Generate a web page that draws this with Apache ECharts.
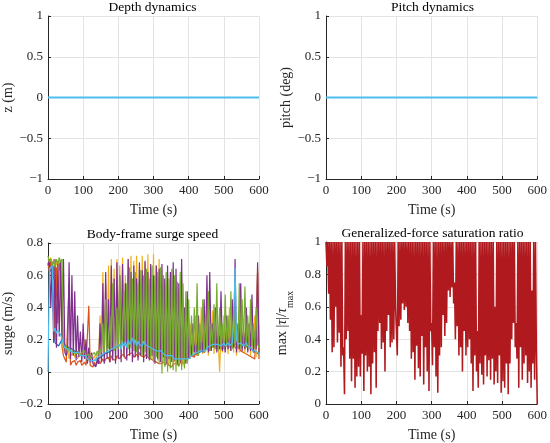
<!DOCTYPE html>
<html>
<head>
<meta charset="utf-8">
<title>AUV dynamics</title>
<script src="https://cdn.jsdelivr.net/npm/echarts@6/dist/echarts.min.js"></script>
<style>
    html, body { margin: 0; padding: 0; background: #fff; }
    #chart { width: 550px; height: 443px; }
</style>
</head>
<body>
<div id="chart"></div>
<script>
// 采样时间网格 (s)
function timeGrid(step, end) {
    const t = [];
    for (let v = 0; v <= end + 1e-9; v += step) t.push(+v.toFixed(2));
    return t;
}

// 深度 / 俯仰（全部为 0）
const flatTime = [0, 600];
const depthZ = [0, 0];
const pitchDeg = [0, 0];

// 纵向速度，每 4 s 一个点
const surgeTime = timeGrid(4, 600);
const surgeBlueTime = timeGrid(10, 600);

const surgeBlue = [
    0.65, 0.62, 0.18, 0.16, 0.20, 0.16, 0.15, 0.14, 0.12, 0.11,
    0.10, 0.09, 0.07, 0.07, 0.08, 0.09, 0.11, 0.12, 0.13, 0.15,
    0.16, 0.17, 0.18, 0.19, 0.18, 0.17, 0.18, 0.17, 0.17, 0.16,
    0.15, 0.14, 0.13, 0.12, 0.11, 0.10, 0.09, 0.08, 0.08, 0.08,
    0.09, 0.10, 0.11, 0.12, 0.13, 0.14, 0.15, 0.16, 0.17, 0.17,
    0.17, 0.17, 0.18, 0.17, 0.17, 0.16, 0.17, 0.16, 0.14, 0.12,
    0.11
];

const surgeOrange = [
    0.68, 0.62, 0.70, 0.55, 0.66, 0.20, 0.65, 0.30, 0.68, 0.62,
    0.15, 0.10, 0.08, 0.06, 0.05, 0.55, 0.04, 0.06, 0.05, 0.07,
    0.04, 0.06, 0.05, 0.07, 0.04, 0.05, 0.06, 0.04, 0.05, 0.41,
    0.04, 0.05, 0.03, 0.06, 0.04, 0.05, 0.07, 0.05, 0.06, 0.08,
    0.06, 0.08, 0.07, 0.09, 0.06, 0.10, 0.08, 0.09, 0.07, 0.10,
    0.09, 0.08, 0.10, 0.09, 0.11, 0.08, 0.10, 0.09, 0.11, 0.10,
    0.12, 0.09, 0.10, 0.11, 0.09, 0.12, 0.10, 0.11, 0.09, 0.10,
    0.11, 0.09, 0.10, 0.08, 0.09, 0.07, 0.08, 0.06, 0.07, 0.05,
    0.06, 0.05, 0.07, 0.04, 0.05, 0.06, 0.04, 0.05, 0.03, 0.05,
    0.04, 0.05, 0.06, 0.04, 0.05, 0.07, 0.05, 0.06, 0.08, 0.07,
    0.09, 0.08, 0.10, 0.11, 0.09, 0.12, 0.10, 0.11, 0.13, 0.12,
    0.14, 0.12, 0.13, 0.15, 0.14, 0.13, 0.15, 0.14, 0.16, 0.15,
    0.14, 0.16, 0.15, 0.14, 0.16, 0.15, 0.17, 0.16, 0.15, 0.17,
    0.16, 0.15, 0.17, 0.16, 0.14, 0.16, 0.15, 0.13, 0.14, 0.12,
    0.13, 0.11, 0.12, 0.10, 0.11, 0.09, 0.10, 0.08, 0.09, 0.62,
    0.08
];

const surgeYellow = [
    0.70, 0.68, 0.71, 0.66, 0.70, 0.62, 0.69, 0.65, 0.70, 0.67,
    0.25, 0.12, 0.15, 0.10, 0.13, 0.08, 0.12, 0.10, 0.14, 0.09,
    0.11, 0.08, 0.12, 0.10, 0.13, 0.09, 0.20, 0.08, 0.10, 0.07,
    0.09, 0.06, 0.08, 0.10, 0.07, 0.12, 0.09, 0.35, 0.08, 0.62,
    0.10, 0.55, 0.12, 0.66, 0.08, 0.70, 0.10, 0.64, 0.12, 0.70,
    0.09, 0.66, 0.14, 0.71, 0.10, 0.60, 0.12, 0.70, 0.15, 0.72,
    0.11, 0.69, 0.13, 0.72, 0.10, 0.66, 0.14, 0.72, 0.09, 0.68,
    0.12, 0.73, 0.10, 0.65, 0.08, 0.73, 0.12, 0.66, 0.07, 0.70,
    0.10, 0.45, 0.06, 0.30, 0.08, 0.38, 0.05, 0.25, 0.07, 0.33,
    0.06, 0.20, 0.05, 0.28, 0.07, 0.15, 0.04, 0.22, 0.06, 0.12,
    0.08, 0.30, 0.10, 0.18, 0.12, 0.35, 0.10, 0.25, 0.13, 0.40,
    0.11, 0.30, 0.12, 0.42, 0.10, 0.28, 0.13, 0.38, 0.11, 0.30,
    0.14, 0.20, 0.00, 0.25, 0.12, 0.35, 0.14, 0.28, 0.11, 0.40,
    0.13, 0.30, 0.12, 0.45, 0.10, 0.25, 0.12, 0.35, 0.14, 0.28,
    0.11, 0.38, 0.13, 0.30, 0.10, 0.25, 0.12, 0.35, 0.09, 0.65,
    0.12
];

const surgePurple = [
    0.66, 0.70, 0.40, 0.68, 0.18, 0.70, 0.15, 0.67, 0.22, 0.69,
    0.20, 0.70, 0.12, 0.10, 0.15, 0.68, 0.08, 0.60, 0.10, 0.50,
    0.07, 0.35, 0.09, 0.25, 0.06, 0.30, 0.08, 0.20, 0.05, 0.15,
    0.06, 0.12, 0.05, 0.04, 0.03, 0.08, 0.05, 0.30, 0.06, 0.55,
    0.05, 0.62, 0.08, 0.45, 0.06, 0.66, 0.07, 0.58, 0.05, 0.68,
    0.08, 0.60, 0.06, 0.67, 0.09, 0.55, 0.07, 0.70, 0.10, 0.62,
    0.06, 0.66, 0.09, 0.58, 0.07, 0.68, 0.10, 0.63, 0.06, 0.69,
    0.08, 0.62, 0.07, 0.67, 0.10, 0.60, 0.05, 0.66, 0.08, 0.64,
    0.06, 0.67, 0.09, 0.58, 0.05, 0.66, 0.08, 0.62, 0.06, 0.68,
    0.07, 0.64, 0.05, 0.55, 0.06, 0.70, 0.08, 0.40, 0.05, 0.50,
    0.08, 0.20, 0.10, 0.30, 0.12, 0.18, 0.11, 0.35, 0.13, 0.20,
    0.12, 0.45, 0.14, 0.60, 0.12, 0.62, 0.13, 0.30, 0.15, 0.40,
    0.12, 0.25, 0.14, 0.50, 0.13, 0.20, 0.12, 0.35, 0.14, 0.22,
    0.13, 0.45, 0.15, 0.70, 0.12, 0.30, 0.14, 0.55, 0.13, 0.25,
    0.14, 0.40, 0.12, 0.30, 0.13, 0.48, 0.12, 0.25, 0.14, 0.68,
    0.12
];

const surgeGreen = [
    0.72, 0.68, 0.70, 0.66, 0.69, 0.65, 0.70, 0.67, 0.71, 0.68,
    0.70, 0.15, 0.14, 0.16, 0.12, 0.15, 0.13, 0.14, 0.12, 0.13,
    0.11, 0.13, 0.12, 0.10, 0.12, 0.11, 0.13, 0.10, 0.09, 0.11,
    0.08, 0.10, 0.09, 0.12, 0.10, 0.13, 0.11, 0.14, 0.12, 0.30,
    0.12, 0.45, 0.13, 0.15, 0.35, 0.14, 0.55, 0.13, 0.15, 0.40,
    0.14, 0.60, 0.15, 0.20, 0.50, 0.16, 0.55, 0.14, 0.65, 0.15,
    0.58, 0.13, 0.62, 0.12, 0.55, 0.14, 0.63, 0.10, 0.60, 0.12,
    0.64, 0.10, 0.58, 0.08, 0.66, 0.06, 0.60, 0.09, 0.62, 0.05,
    0.65, -0.01, 0.60, 0.03, 0.62, 0.00, 0.58, 0.02, 0.64, 0.01,
    0.60, 0.00, 0.56, 0.03, 0.62, 0.01, 0.55, 0.02, 0.50, 0.05,
    0.45, 0.08, 0.35, 0.10, 0.40, 0.12, 0.55, 0.10, 0.30, 0.13,
    0.45, 0.12, 0.35, 0.14, 0.50, 0.13, 0.30, 0.15, 0.42, 0.14,
    0.55, 0.13, 0.40, 0.15, 0.30, 0.14, 0.48, 0.16, 0.35, 0.15,
    0.50, 0.14, 0.38, 0.16, 0.30, 0.15, 0.55, 0.14, 0.45, 0.16,
    0.53, 0.15, 0.35, 0.14, 0.45, 0.16, 0.30, 0.15, 0.40, 0.17,
    0.15
];

const surgeCyan = [
    0.00, 0.64, 0.65, 0.66, 0.25, 0.27, 0.24, 0.26, 0.25, 0.23,
    0.22, 0.17, 0.15, 0.16, 0.14, 0.15, 0.13, 0.14, 0.12, 0.13,
    0.12, 0.11, 0.12, 0.10, 0.11, 0.10, 0.09, 0.10, 0.08, 0.09,
    0.07, 0.06, 0.07, 0.08, 0.07, 0.09, 0.08, 0.10, 0.09, 0.11,
    0.10, 0.12, 0.11, 0.13, 0.12, 0.14, 0.13, 0.15, 0.14, 0.16,
    0.15, 0.17, 0.14, 0.18, 0.16, 0.19, 0.15, 0.20, 0.17, 0.19,
    0.21, 0.17, 0.20, 0.16, 0.19, 0.17, 0.18, 0.16, 0.19, 0.17,
    0.18, 0.16, 0.17, 0.15, 0.16, 0.14, 0.15, 0.13, 0.14, 0.13,
    0.12, 0.13, 0.11, 0.12, 0.10, 0.11, 0.10, 0.09, 0.10, 0.09,
    0.08, 0.09, 0.08, 0.07, 0.08, 0.07, 0.08, 0.07, 0.08, 0.09,
    0.08, 0.09, 0.10, 0.09, 0.11, 0.10, 0.12, 0.11, 0.13, 0.12,
    0.13, 0.14, 0.13, 0.15, 0.14, 0.16, 0.15, 0.17, 0.16, 0.17,
    0.18, 0.17, 0.18, 0.16, 0.17, 0.18, 0.16, 0.17, 0.18, 0.16,
    0.17, 0.18, 0.30, 0.65, 0.20, 0.17, 0.16, 0.18, 0.17, 0.16,
    0.17, 0.18, 0.16, 0.17, 0.15, 0.14, 0.13, 0.12, 0.13, 0.12,
    0.11
];

// 广义力饱和比，每 2.5 s 一个点
const satTime = timeGrid(2.5, 600);
const satRatio = [
    1, 0.85, 1, 0.68, 1, 0.52, 1, 0.32, 1, 0.35,
    1, 0.60, 1, 0.38, 1, 0.44, 1, 0.23, 1, 0.30,
    0.35, 0.06, 1, 0.40, 1, 0.45, 1, 0.28, 1, 0.14,
    1, 0.28, 1, 0.10, 1, 0.17, 1, 0.23, 1, 0.17,
    0.55, 0.31, 1, 0.08, 1, 0.30, 1, 0.20, 1, 0.23,
    1, 0.06, 1, 0.25, 1, 0.32, 1, 0.10, 1, 0.45,
    1, 0.50, 1, 0.34, 1, 0.38, 1, 0.20, 1, 0.45,
    1, 0.55, 1, 0.35, 1, 0.38, 1, 0.40, 1, 0.60,
    0.60, 0.30, 1, 0.48, 1, 0.52, 1, 0.62, 1, 0.58,
    1, 0.60, 1, 0.50, 1, 0.45, 1, 0.28, 1, 0.32,
    1, 0.15, 1, 0.36, 1, 0.22, 1, 0.17, 1, 0.42,
    1, 0.12, 1, 0.35, 1, 0.20, 1, 0.08, 1, 0.45,
    0.50, 0.24, 1, 0.35, 1, 0.17, 1, 0.07, 1, 0.30,
    1, 0.35, 1, 0.55, 1, 0.42, 1, 0.50, 1, 0.70,
    1, 0.66, 1, 0.72, 1, 0.62, 0.75, 0.40, 1, 0.48,
    1, 0.30, 1, 0.35, 1, 0.20, 1, 0.45, 1, 0.30,
    1, 0.35, 1, 0.40, 1, 0.25, 1, 0.08, 1, 0.30,
    1, 0.20, 0.45, 0.10, 1, 0.25, 1, 0.18, 1, 0.12,
    1, 0.30, 1, 0.17, 1, 0.27, 1, 0.15, 1, 0.28,
    1, 0.12, 0.60, 0.20, 1, 0.13, 1, 0.30, 1, 0.07,
    1, 0.14, 1, 0.10, 1, 0.25, 1, 0.06, 1, 0.25,
    1, 0.40, 1, 0.50, 1, 0.35, 0.50, 0.28, 1, 0.10,
    1, 0.35, 1, 0.15, 1, 0.25, 1, 0.30, 1, 0.13,
    1, 0.20, 1, 0.10, 0.70, 0.25, 1, 0.15, 1, 0.32,
    0
];

// MATLAB 默认配色
const colors = ['#0072BD', '#D95319', '#EDB120', '#7E2F8E', '#77AC30', '#4DBEEE'];
const satColor = '#B0191D';

const FONT = '"Liberation Serif", "Times New Roman", serif';
const INK = '#262626';

function pairs(t, v) {
    return v.map((y, i) => [t[i], y]);
}

function fmt(v) {
    return String(+v.toFixed(2)).replace('-', '\u2212');
}

const grids = [
    { left: 46, top: 16, width: 213, height: 163 },
    { left: 326, top: 16, width: 213, height: 163 },
    { left: 46, top: 243, width: 213, height: 161 },
    { left: 326, top: 242, width: 213, height: 162 }
];

function xAxisFor(i) {
    return {
        type: 'value', gridIndex: i, min: 0, max: 600, interval: 100,
        name: 'Time (s)', nameLocation: 'middle', nameGap: 24,
        nameTextStyle: { fontFamily: FONT, fontSize: 14, color: INK },
        axisLine: { onZero: false, lineStyle: { color: INK, width: 1 } },
        axisTick: { inside: true, length: 3, lineStyle: { color: INK } },
        axisLabel: { fontFamily: FONT, fontSize: 13, color: INK, margin: 5 },
        splitLine: { show: true, lineStyle: { color: '#e3e3e3', width: 1 } }
    };
}

function yAxisFor(i, name, min, max, interval, gap, rich) {
    return {
        type: 'value', gridIndex: i, min: min, max: max, interval: interval,
        name: name, nameLocation: 'middle', nameGap: gap,
        nameTextStyle: { fontFamily: FONT, fontSize: 14, color: INK, rich: rich },
        axisLine: { show: true, onZero: false, lineStyle: { color: INK, width: 1 } },
        axisTick: { show: true, inside: true, length: 3, lineStyle: { color: INK } },
        axisLabel: { fontFamily: FONT, fontSize: 13, color: INK, margin: 5, formatter: fmt },
        splitLine: { show: true, lineStyle: { color: '#e3e3e3', width: 1 } }
    };
}

const titles = ['Depth dynamics', 'Pitch dynamics', 'Body-frame surge speed', 'Generalized-force saturation ratio'];

const chart = echarts.init(document.getElementById('chart'));

const surgeSets = [
    [surgeBlueTime, surgeBlue],
    [surgeTime, surgeOrange],
    [surgeTime, surgeYellow],
    [surgeTime, surgePurple],
    [surgeTime, surgeGreen],
    [surgeTime, surgeCyan]
];

const series = [];
series.push({
    type: 'line', xAxisIndex: 0, yAxisIndex: 0, data: pairs(flatTime, depthZ),
    showSymbol: false, lineStyle: { color: colors[5], width: 2 }
});
series.push({
    type: 'line', xAxisIndex: 1, yAxisIndex: 1, data: pairs(flatTime, pitchDeg),
    showSymbol: false, lineStyle: { color: colors[5], width: 2 }
});
surgeSets.forEach((s, k) => {
    series.push({
        type: 'line', xAxisIndex: 2, yAxisIndex: 2, data: pairs(s[0], s[1]),
        showSymbol: false, lineStyle: { color: colors[k], width: 1.2 }
    });
});
series.push({
    type: 'line', xAxisIndex: 3, yAxisIndex: 3, data: pairs(satTime, satRatio),
    showSymbol: false, lineStyle: { color: satColor, width: 1.55 }
});

chart.setOption({
    animation: false,
    backgroundColor: '#fff',
    title: titles.map((t, i) => ({
        text: t,
        left: grids[i].left + grids[i].width / 2,
        top: grids[i].top - 16,
        textAlign: 'center',
        padding: 0,
        textStyle: { fontFamily: FONT, fontSize: 13.5, fontWeight: 'normal', color: '#000' }
    })),
    grid: grids,
    xAxis: [0, 1, 2, 3].map(xAxisFor),
    yAxis: [
        yAxisFor(0, 'z (m)', -1, 1, 0.5, 33),
        yAxisFor(1, 'pitch (deg)', -1, 1, 0.5, 31),
        yAxisFor(2, 'surge (m/s)', -0.2, 0.8, 0.2, 33),
        yAxisFor(3, 'max |{it|\u03c4}|/{it|\u03c4}{sub|max}', 0, 1, 0.2, 31, {
            it: { fontFamily: FONT, fontSize: 14, fontStyle: 'italic', color: INK },
            sub: { fontFamily: FONT, fontSize: 10, color: INK, lineHeight: 26, verticalAlign: 'bottom' }
        })
    ],
    series: series
});

window.addEventListener('resize', function() {
    chart.resize();
});
</script>
</body>
</html>
